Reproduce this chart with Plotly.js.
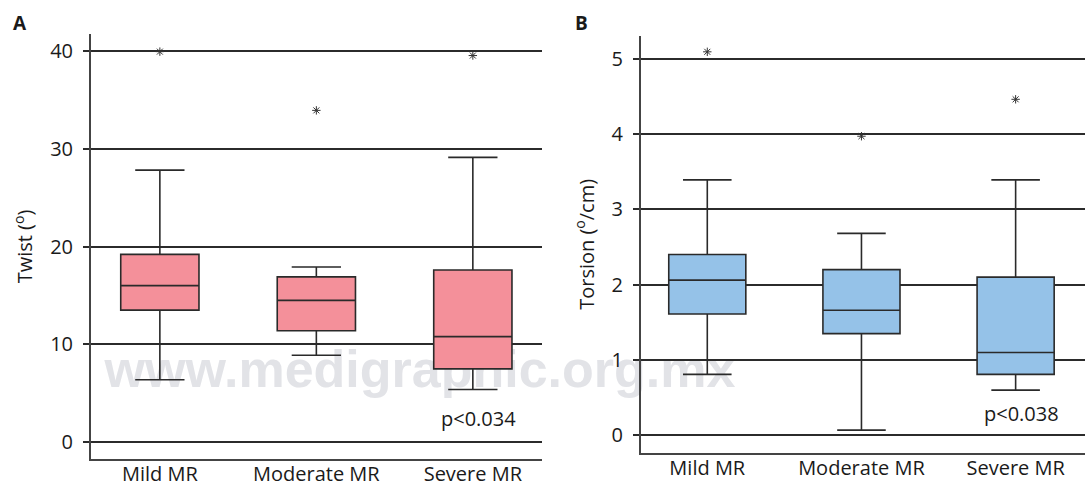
<!DOCTYPE html>
<html>
<head>
<meta charset="utf-8">
<script src="https://cdn.plot.ly/plotly-3.0.1.min.js"></script>
<style>
  html, body { margin: 0; padding: 0; background: #ffffff; }
  #chart { width: 1090px; height: 486px; }
</style>
</head>
<body>
<div id="chart"></div>
<script>
// ---- Data ----
const categories = ["Mild MR", "Moderate MR", "Severe MR"];

// Panel A: Twist (degrees)
const twistLowerFence = [6.4, 8.9, 5.4];
const twistQ1         = [13.5, 11.4, 7.5];
const twistMedian     = [16.0, 14.5, 10.8];
const twistQ3         = [19.2, 16.9, 17.6];
const twistUpperFence = [27.8, 17.9, 29.1];
const twistOutliers   = [39.9, 33.9, 39.5];

// Panel B: Torsion (degrees/cm)
const torsionLowerFence = [0.81, 0.07, 0.60];
const torsionQ1         = [1.61, 1.35, 0.81];
const torsionMedian     = [2.06, 1.66, 1.10];
const torsionQ3         = [2.40, 2.20, 2.10];
const torsionUpperFence = [3.39, 2.68, 3.39];
const torsionOutliers   = [5.09, 3.97, 4.46];

const twistTicks   = [0, 10, 20, 30, 40];
const torsionTicks = [0, 1, 2, 3, 4, 5];

const pTwist   = "p&lt;0.034";
const pTorsion = "p&lt;0.038";
const watermark = "www.medigraphic.org.mx";

// ---- Styling ----
const W = 1090, H = 486;
const px = v => v / W;
const py = v => 1 - v / H;
const FONT = "Open Sans, Noto Sans, sans-serif";
const TXT = "#1a1a1a";
const EDGE = "#2a2a2a";

function boxTrace(xa, ya, q1, med, q3, lo, hi, fill) {
  return {
    type: "box", xaxis: xa, yaxis: ya,
    x: categories, q1: q1, median: med, q3: q3,
    lowerfence: lo, upperfence: hi,
    boxpoints: false, width: 0.5, whiskerwidth: 0.63,
    fillcolor: fill, line: { color: EDGE, width: 1.6 },
    hoverinfo: "skip", showlegend: false
  };
}
function outlierTrace(xa, ya, vals) {
  return {
    type: "scatter", mode: "markers", xaxis: xa, yaxis: ya,
    x: categories, y: vals,
    marker: { symbol: "asterisk-open", size: 7, color: "#333", line: { width: 1, color: "#333" } },
    hoverinfo: "skip", showlegend: false
  };
}

const data = [
  boxTrace("x", "y", twistQ1, twistMedian, twistQ3, twistLowerFence, twistUpperFence, "#F4909A"),
  outlierTrace("x", "y", twistOutliers),
  boxTrace("x2", "y2", torsionQ1, torsionMedian, torsionQ3, torsionLowerFence, torsionUpperFence, "#95C2E8"),
  outlierTrace("x2", "y2", torsionOutliers)
];

function xAxis(domain, range) {
  return {
    domain: domain, range: range, type: "category",
    showline: true, linecolor: "#444", linewidth: 2,
    showgrid: false, zeroline: false, ticks: "",
    tickfont: { family: FONT, size: 20, color: TXT },
    ticklabelstandoff: -4,
    fixedrange: true
  };
}
function yAxis(domain, range, ticks, title) {
  return {
    domain: domain, range: range, tickvals: ticks,
    showline: true, linecolor: "#444", linewidth: 2,
    showgrid: true, gridcolor: "#2b2b2b", gridwidth: 2,
    zeroline: false, ticks: "outside", ticklen: 6, tickwidth: 2, tickcolor: "#2b2b2b",
    tickfont: { family: FONT, size: 20, color: TXT },
    ticklabelstandoff: 6,
    title: { text: title, font: { family: FONT, size: 20, color: TXT }, standoff: 12 },
    fixedrange: true
  };
}

const layout = {
  width: W, height: H,
  margin: { l: 0, r: 0, t: 0, b: 0 },
  paper_bgcolor: "#ffffff", plot_bgcolor: "rgba(0,0,0,0)",
  showlegend: false,
  xaxis:  xAxis([px(91), px(541.7)], [-0.44, 2.44]),
  yaxis:  yAxis([py(459), py(34)], [-1.7, 41.7], twistTicks, "Twist (<sup>o</sup>)"),
  xaxis2: Object.assign(xAxis([px(641), px(1085)], [-0.43, 2.45]), { anchor: "y2" }),
  yaxis2: Object.assign(yAxis([py(452.7), py(36)], [-0.23, 5.30], torsionTicks, "Torsion (<sup>o</sup>/cm)"), { anchor: "x2" }),
  shapes: [{
    type: "rect", xref: "paper", yref: "paper", layer: "below",
    x0: px(100), x1: px(740), y0: py(396), y1: py(331),
    line: { width: 0 }, fillcolor: "rgba(0,0,0,0)",
    label: { text: watermark, textposition: "middle center",
             font: { family: "Liberation Sans, Arial, sans-serif", size: 52, color: "#e2e3e7", weight: "bold" } }
  }],
  annotations: [
    { text: "<b>A</b>", xref: "paper", yref: "paper", x: px(11), y: py(23), xanchor: "left", yanchor: "middle",
      showarrow: false, font: { family: FONT, size: 19, color: TXT } },
    { text: "<b>B</b>", xref: "paper", yref: "paper", x: px(573), y: py(23), xanchor: "left", yanchor: "middle",
      showarrow: false, font: { family: FONT, size: 19, color: TXT } },
    { text: pTwist, xref: "paper", yref: "paper", x: px(478), y: py(418), xanchor: "center", yanchor: "middle",
      showarrow: false, font: { family: FONT, size: 20, color: TXT } },
    { text: pTorsion, xref: "paper", yref: "paper", x: px(1021), y: py(413), xanchor: "center", yanchor: "middle",
      showarrow: false, font: { family: FONT, size: 20, color: TXT } }
  ]
};

Plotly.newPlot("chart", data, layout, { displayModeBar: false, staticPlot: true });
</script>
</body>
</html>
